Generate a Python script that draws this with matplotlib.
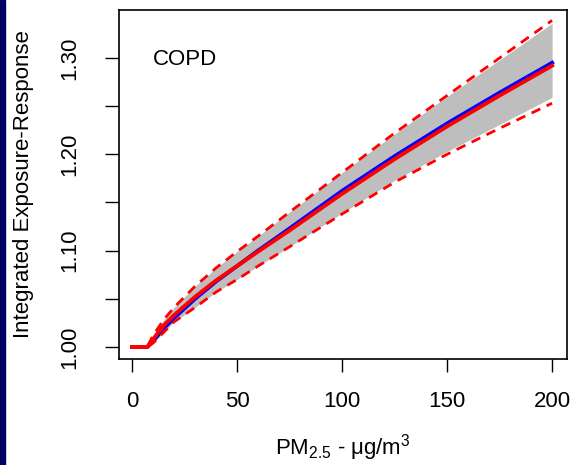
import matplotlib
matplotlib.use("Agg")
import matplotlib.pyplot as plt
import matplotlib.patches as mpatches

plt.rcParams["font.family"] = ["Liberation Sans", "DejaVu Sans"]
plt.rcParams["mathtext.fontset"] = "custom"
plt.rcParams["mathtext.rm"] = "Liberation Sans"
plt.rcParams["mathtext.it"] = "Liberation Sans:italic"

# ---- DATA ----
pm25 = [0, 7.3, 10, 15, 20, 30, 40, 50, 60, 75, 100, 125, 150, 175, 200]
ier_red = [1.0, 1.0, 1.008, 1.022, 1.033, 1.052, 1.069, 1.084, 1.099, 1.121,
           1.159, 1.195, 1.229, 1.261, 1.292]
ier_blue = [1.0, 1.0, 1.006, 1.019, 1.030, 1.050, 1.068, 1.084, 1.100, 1.123,
            1.162, 1.198, 1.232, 1.264, 1.295]
upper_ci = [1.0, 1.0, 1.012, 1.028, 1.041, 1.063, 1.082, 1.099, 1.115, 1.140,
            1.181, 1.222, 1.261, 1.300, 1.339]
lower_ci = [1.0, 1.0, 1.004, 1.015, 1.026, 1.041, 1.057, 1.070, 1.084, 1.104,
            1.138, 1.171, 1.200, 1.227, 1.253]
band_hi = [1.0, 1.0, 1.012, 1.028, 1.041, 1.063, 1.082, 1.099, 1.115, 1.140,
           1.181, 1.221, 1.260, 1.298, 1.336]
band_lo = [1.0, 1.0, 1.004, 1.015, 1.026, 1.041, 1.057, 1.070, 1.084, 1.104,
           1.139, 1.173, 1.203, 1.231, 1.259]

yticks = [1.00, 1.05, 1.10, 1.15, 1.20, 1.25, 1.30]
ytick_labels = ["1.00", "", "1.10", "", "1.20", "", "1.30"]
xticks = [0, 50, 100, 150, 200]

fig = plt.figure(figsize=(5.72, 4.65), dpi=100)
# navy strip of the slide on the left
fig.patches.append(mpatches.Rectangle((0, 0), 5 / 572, 1, transform=fig.transFigure,
                                      color="#000066", zorder=0))

ax = fig.add_axes([119 / 572, 1 - 359 / 465, 448 / 572, 349 / 465])

ax.fill_between(pm25, band_lo, band_hi, color="#BEBEBE", linewidth=0, zorder=1)
ax.plot(pm25, ier_blue, color="#0000FF", lw=2.8, zorder=3)
ax.plot(pm25, ier_red, color="#FF0000", lw=2.8, zorder=4)
ax.plot(pm25, upper_ci, color="#FF0000", lw=2.0, dashes=(3.5, 2.5), zorder=4)
ax.plot(pm25, lower_ci, color="#FF0000", lw=2.0, dashes=(3.5, 2.5), zorder=4)

ax.set_xlim(-6.2, 207.1)
ax.set_ylim(0.9875, 1.3498)
ax.set_xticks(xticks)
ax.set_yticks(yticks)
ax.set_yticklabels(ytick_labels, rotation=90, va="center")
ax.tick_params(axis="y", length=10, width=1, labelsize=16, pad=18)
ax.tick_params(axis="x", length=9, width=1, labelsize=16, pad=14)
for s in ax.spines.values():
    s.set_linewidth(1.2)

ax.text(0.076, 0.857, "COPD", transform=ax.transAxes, fontsize=16, va="center")

ax.set_ylabel("Integrated Exposure-Response", fontsize=16, va="center")
ax.yaxis.set_label_coords(-0.214, 0.5)
ax.set_xlabel(r"PM$_{\mathrm{2.5}}$ - μg/m$^{\mathrm{3}}$", fontsize=16, va="center")
ax.xaxis.set_label_coords(0.5, -0.255)

fig.savefig("out.png", dpi=100)
